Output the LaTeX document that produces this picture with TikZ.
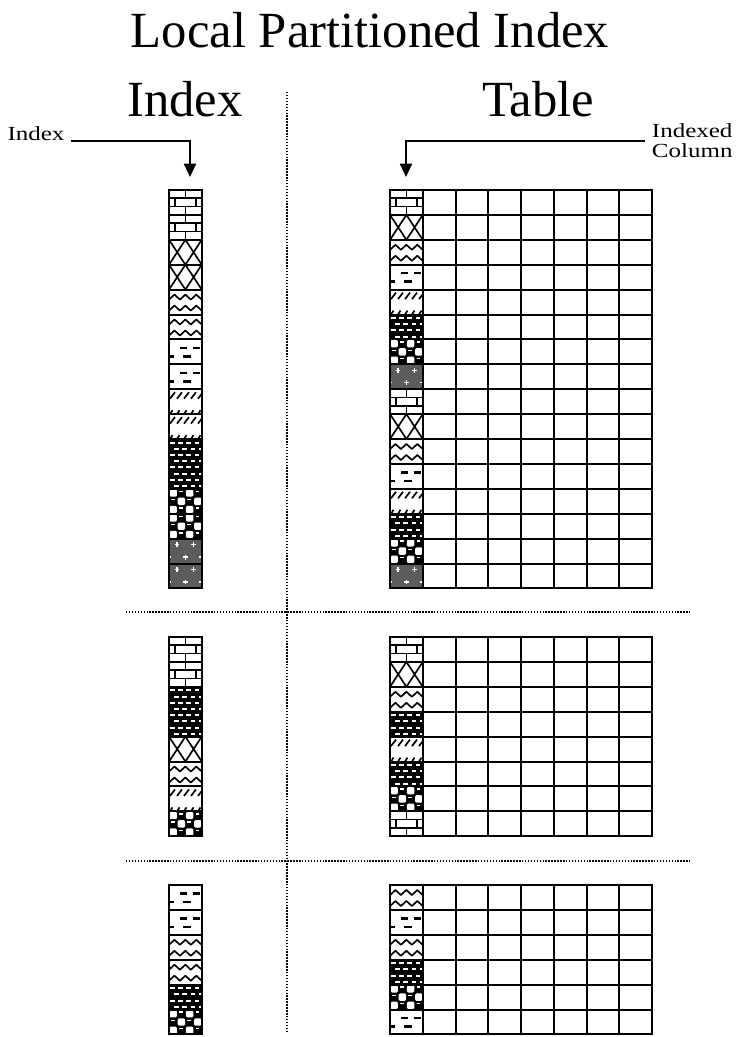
\documentclass[tikz,border=0pt]{standalone}
\usepackage{fontspec}
\setmainfont{Liberation Serif}
\usepackage{graphicx}
\usetikzlibrary{arrows.meta}

\newcommand{\cw}{32.75}
\newcommand{\rh}{24.9}
\newcommand{\widen}[1]{\scalebox{1.25}[1]{#1}}

% fills for one cell, origin at its top left corner
\newcommand{\patbrick}{%
  \draw[patline] (0,8.3) -- (\cw,8.3) (0,16.6) -- (\cw,16.6)
    (16.4,0) -- (16.4,8.3) (6,8.3) -- (6,16.6) (27,8.3) -- (27,16.6)
    (16.4,16.6) -- (16.4,\rh);}
\newcommand{\patcross}{%
  \draw[patline] (0,0) -- (16.4,\rh) (16.4,0) -- (\cw,\rh)
    (16.4,0) -- (0,\rh) (\cw,0) -- (16.4,\rh);}
\newcommand{\patwave}{%
  \foreach \yy in {10,21}
    \draw[patline, line join=round] (0,\yy)
      \foreach \k in {1,2,3} { -- ++(5.46,-5) -- ++(5.46,5) };}
\newcommand{\patdash}{%
  \draw[patline, line width=1.9pt] (11,8.5) -- (18,8.5) (24,8.5) -- (31,8.5)
    (0,17) -- (5,17) (14,17) -- (22,17);}
\newcommand{\pathatch}{%
  \foreach \k in {0,...,4}
    \draw[patline] (1+7*\k,9.5) -- (6+7*\k,3) (1+7*\k,\rh) -- (3.5+7*\k,21);}
\newcommand{\patdark}{%
  \fill (0,0) rectangle (\cw,\rh);
  \foreach \j in {0,...,3} \foreach \i in {0,...,4}
    \fill[white] ({1+8.2*\i-4.1*mod(\j,2)},{2.5+6.2*\j}) rectangle ++(4.5,2);}
\newcommand{\patcirc}{%
  \fill (0,0) rectangle (\cw,\rh);
  \foreach \j in {0,1,2} \foreach \i in {0,1,2} {
    \fill[white, rounded corners=1pt] ({0.5+8.2*mod(\j,2)+16.4*\i},{0.5+8.3*\j}) rectangle ++(7.4,7.4);
    \fill[white] ({10.2-8.2*mod(\j,2)+16.4*\i},{1.8+8.3*\j}) rectangle ++(3.6,1.4);
  }}
\newcommand{\patgrid}{%
  \fill[black!64] (0,0) rectangle (\cw,\rh);
  \foreach \p in {(8,6),(24.5,6),(16.4,18.5),(0,18.5),(32.75,18.5)}
    \draw[white, line width=1pt] \p ++(-2.4,0) -- ++(4.8,0) \p ++(0,-2.4) -- ++(0,4.8);}

% one framed cell: pattern, left, top
\newcommand{\patcell}[3]{%
  \begin{scope}[shift={(#2,#3)}]
    \begin{scope}
      \clip (0,0) rectangle (\cw,\rh);
      \csname pat#1\endcsname
    \end{scope}
    \draw[cellline] (0,0) rectangle (\cw,\rh);
  \end{scope}}
% a column of cells: left, top, patterns
\newcommand{\patcolumn}[3]{%
  \foreach \pat [count=\row from 0] in {#3} {\patcell{\pat}{#1}{#2+\rh*\row}}}
% the empty table columns: top, rows
\newcommand{\tablegrid}[2]{%
  \foreach \row in {1,...,#2} \foreach \col in {1,...,7}
    \draw[cellline] ({390+\cw*\col},{#1+\rh*(\row-1)}) rectangle ++(\cw,\rh);}

\begin{document}
\begin{tikzpicture}[x=0.75pt, y=-0.75pt,
  cellline/.style={line width=1.5pt},
  patline/.style={line width=1.25pt},
  divider/.style={line width=1.1pt, dash pattern=on 1.1pt off 1.1pt},
  pointer/.style={line width=1.5pt, -{Triangle[width=9pt,length=10pt]}},
  biglabel/.style={font=\fontsize{38}{40}\selectfont, inner sep=0pt},
  smalllabel/.style={font=\fontsize{15}{15}\selectfont, inner xsep=5pt, inner ysep=0pt}]
  \useasboundingbox (0,0) rectangle (738,1037);
  \fill[white] (0,0) rectangle (738,1037);

  % headings
  \node[biglabel, anchor=base] (title) at (370,48) {Local Partitioned Index};
  \node[biglabel, anchor=base] (idxhead) at (185,117) {Index};
  \node[biglabel, anchor=base] (tabhead) at (538,117) {Table};

  % dividers
  \draw[divider] (287,92) -- (287,1032);
  \draw[divider] (126,612) -- (690,612);
  \draw[divider] (126,861) -- (690,861);

  % pointers
  \node[smalllabel, anchor=base] (idxlbl) at (36,141) {\widen{Index}};
  \node[smalllabel, anchor=north west, align=left] (collbl) at (645,123) {\widen{Indexed}\\\widen{Column}};
  \coordinate (idxtip) at (190,177);
  \coordinate (coltip) at (406,177);
  \draw[pointer] (idxlbl.base east) -| (idxtip);
  \draw[pointer] (collbl.west |- idxlbl.base) -| (coltip);

  % partition 1
  \patcolumn{169}{190}{brick,brick,cross,cross,wave,wave,dash,dash,hatch,hatch,dark,dark,circ,circ,grid,grid}
  \patcolumn{390}{190}{brick,cross,wave,dash,hatch,dark,circ,grid,brick,cross,wave,dash,hatch,dark,circ,grid}
  \tablegrid{190}{16}

  % partition 2
  \patcolumn{169}{637}{brick,brick,dark,dark,cross,wave,hatch,circ}
  \patcolumn{390}{637}{brick,cross,wave,dark,hatch,dark,circ,brick}
  \tablegrid{637}{8}

  % partition 3
  \patcolumn{169}{885}{dash,dash,wave,wave,dark,circ}
  \patcolumn{390}{885}{wave,dash,wave,dark,circ,dash}
  \tablegrid{885}{6}
\end{tikzpicture}
\end{document}
